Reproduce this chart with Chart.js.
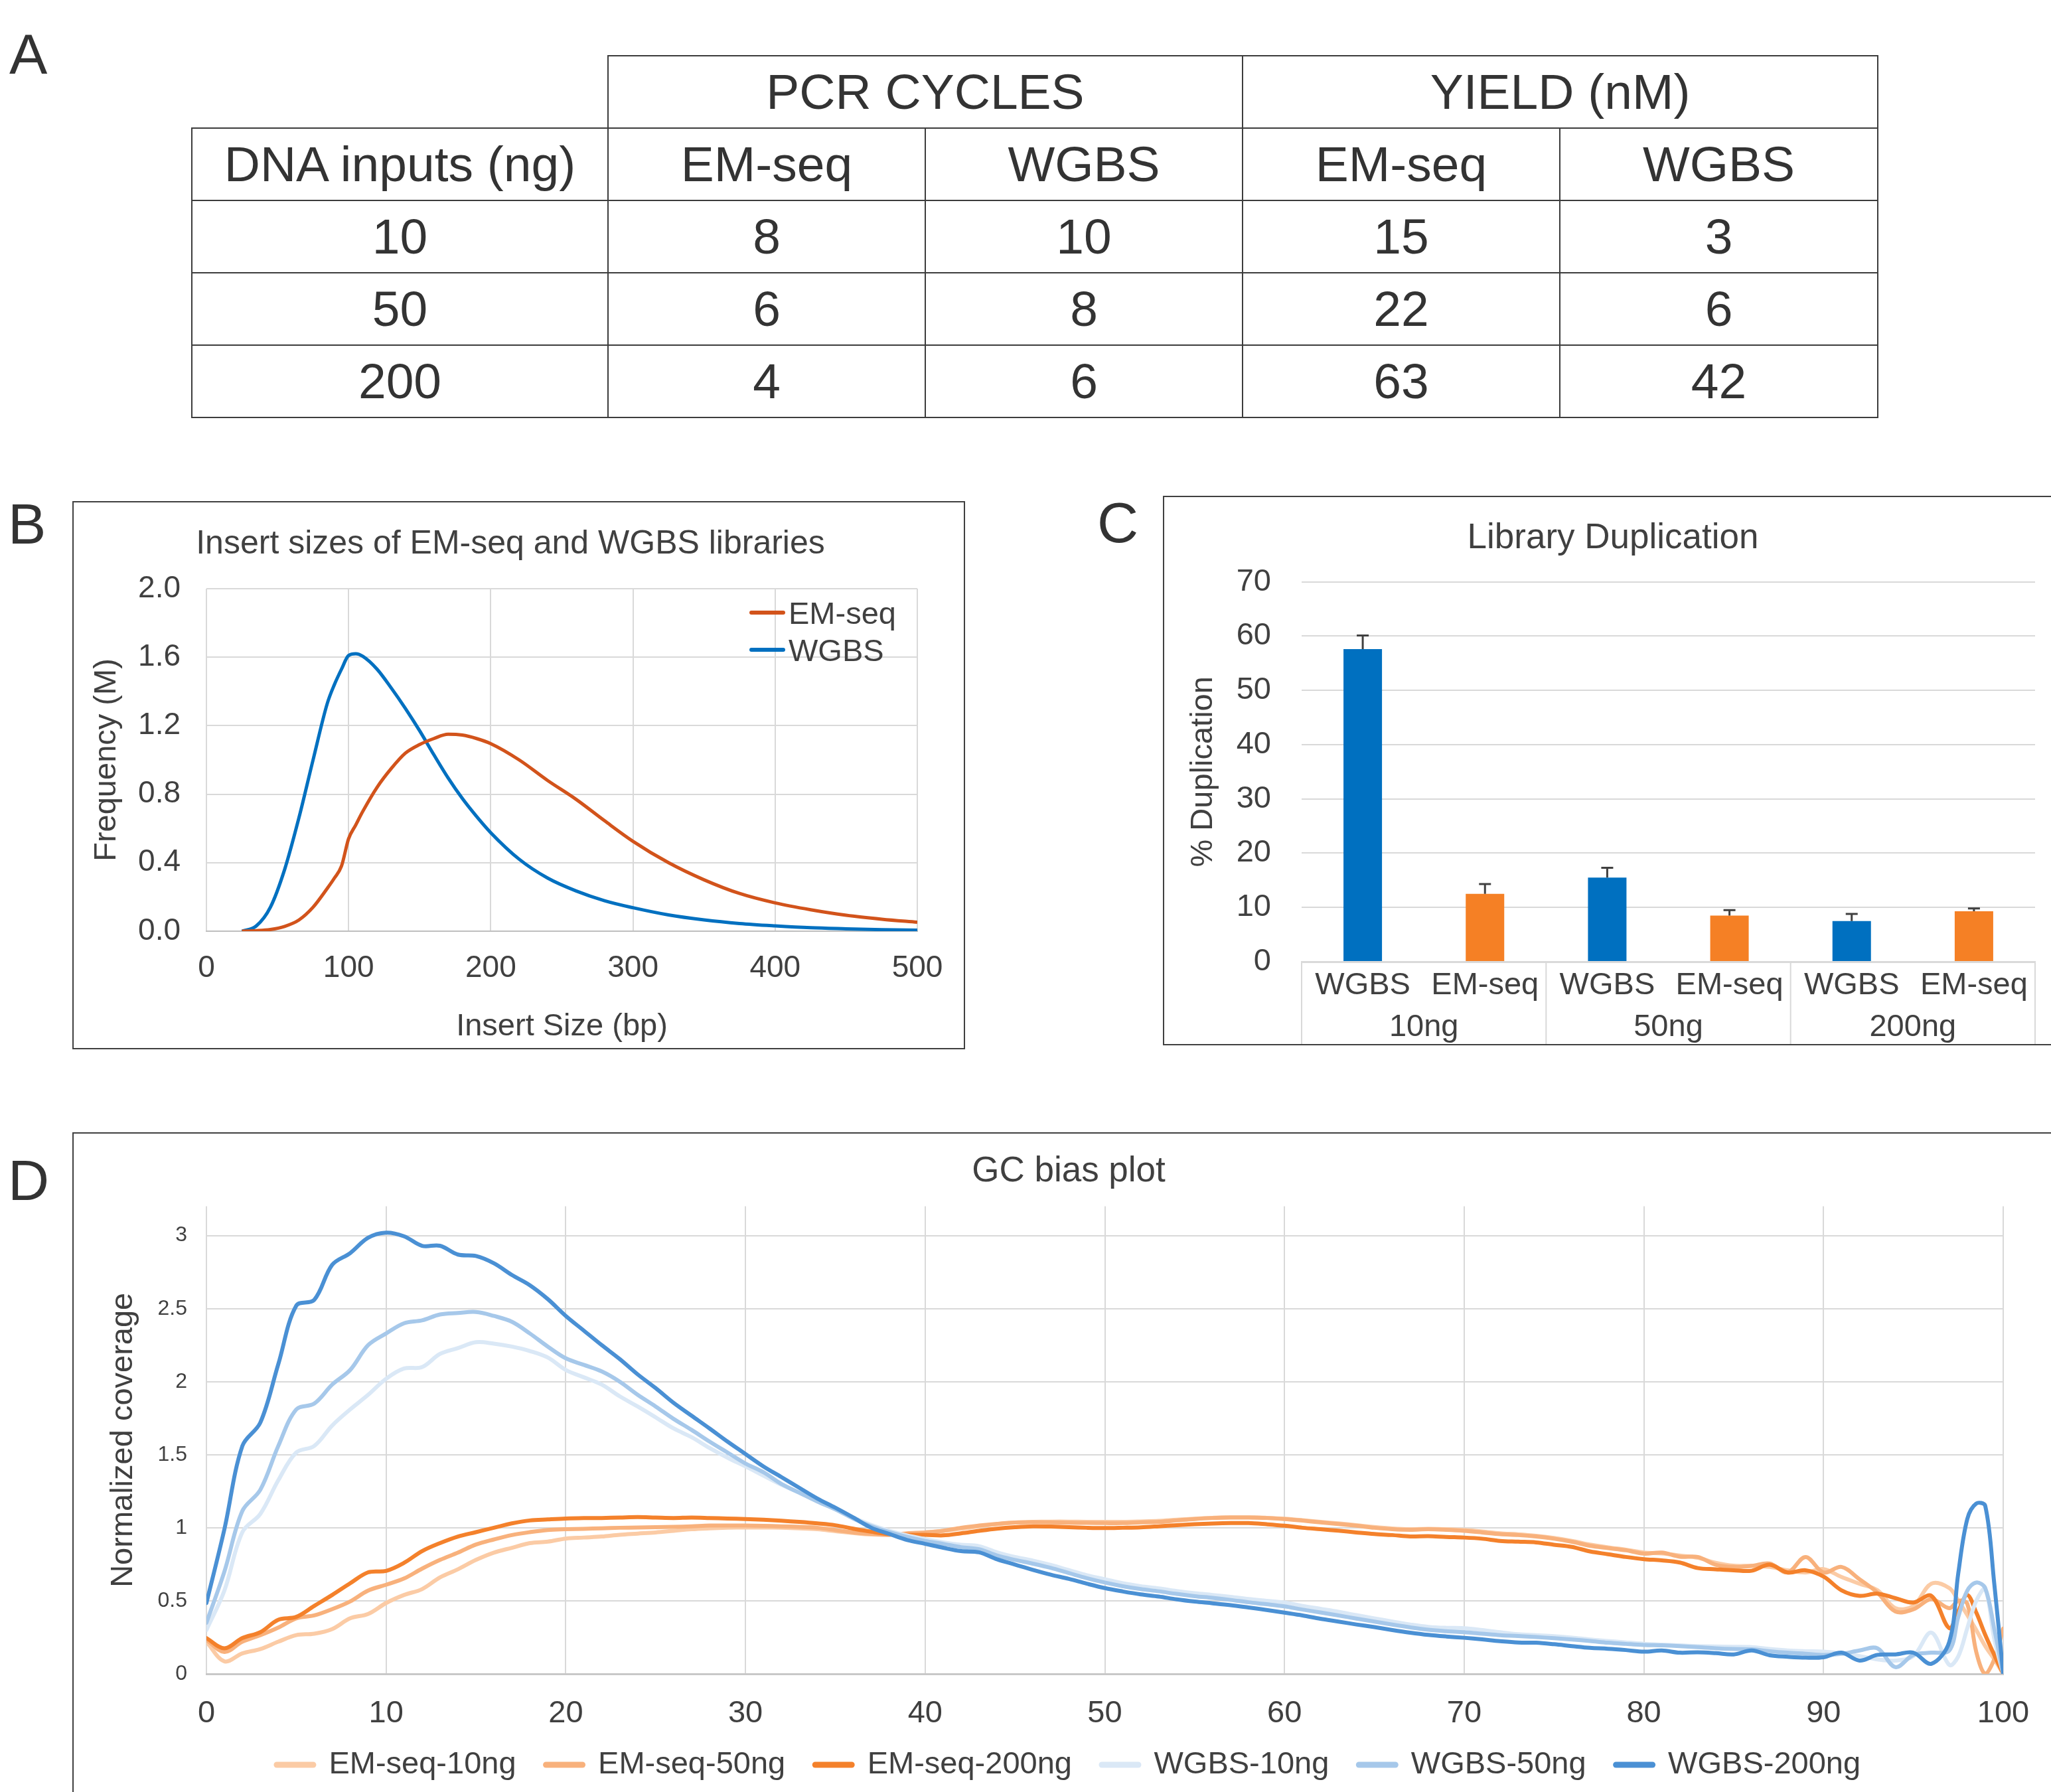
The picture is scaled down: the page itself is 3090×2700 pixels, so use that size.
<!DOCTYPE html>
<html>
<head>
<meta charset="utf-8">
<script src="https://cdn.jsdelivr.net/npm/chart.js@4.4.1/dist/chart.umd.min.js"></script>
<style>
  body { margin: 0; width: 3090px; height: 2700px; overflow: hidden; background: #fff; position: relative;
         font-family: "Liberation Sans", Arial, Helvetica, sans-serif; color: #333; }
  .tag { position: absolute; font-size: 86px; line-height: 1; color: #333; }
  .box { position: absolute; border: 2px solid #404040; box-sizing: border-box; }
  canvas { position: absolute; }
  #tbl { position: absolute; left: 288px; top: 83px; border-collapse: collapse; table-layout: fixed;
         font-size: 75px; color: #333; }
  #tbl td { border: 2px solid #3c3c3c; text-align: center; vertical-align: middle; padding: 0; line-height: 1; }
  #tbl tr { height: 109px; }
  #tbl td.blank { border-top-style: hidden; border-left-style: hidden; }
  .legB { position: absolute; left: 1129px; height: 60px; display: flex; align-items: center; font-size: 47px; color: #404040; }
  .legB span { display: inline-block; width: 54px; height: 6px; border-radius: 3px; margin-right: 5px; }
</style>
</head>
<body>
<div class="tag" style="left:14px; top:38px">A</div>
<div class="tag" style="left:12px; top:746px">B</div>
<div class="tag" style="left:1653px; top:744px">C</div>
<div class="tag" style="left:12px; top:1735px">D</div>

<table id="tbl"></table>

<div class="box" style="left:109px; top:755px; width:1345px; height:826px"></div>
<canvas id="chartB" width="1345" height="825" style="left:110px; top:755px"></canvas>

<div class="box" style="left:1752px; top:747px; width:1400px; height:828px"></div>
<canvas id="chartC" width="1356" height="826" style="left:1752px; top:747px"></canvas>

<div class="box" style="left:109px; top:1706px; width:3100px; height:1100px"></div>
<canvas id="chartD" width="3000" height="1040" style="left:110px; top:1707px"></canvas>

<script>
// ---- A: library prep table ----
const tableGroups = ["PCR CYCLES", "YIELD (nM)"];
const tableMethods = ["EM-seq", "WGBS"];
const dnaInputsNg = [10, 50, 200];
const pcrEmseq = [8, 6, 4];
const pcrWgbs = [10, 8, 6];
const yieldEmseq = [15, 22, 63];
const yieldWgbs = [3, 6, 42];

// ---- B: insert sizes ----
const insertSizeBp = [25, 35, 45, 55, 65, 75, 85, 90, 95, 100, 105, 110, 120, 130, 140, 150, 160, 170, 180, 190,
  200, 220, 240, 260, 280, 300, 325, 350, 375, 400, 425, 450, 475, 500];
const emseqFreqM = [0.0, 0.003, 0.01, 0.028, 0.065, 0.14, 0.25, 0.31, 0.38, 0.54, 0.62, 0.70, 0.84, 0.95, 1.04, 1.09, 1.125, 1.15, 1.145, 1.125,
  1.095, 1.0, 0.88, 0.77, 0.645, 0.525, 0.40, 0.30, 0.22, 0.165, 0.125, 0.093, 0.07, 0.052];
const wgbsFreqM = [0.0, 0.03, 0.14, 0.36, 0.66, 1.0, 1.33, 1.44, 1.53, 1.61, 1.62, 1.605, 1.53, 1.42, 1.30, 1.17, 1.03, 0.895, 0.775, 0.67,
  0.575, 0.42, 0.31, 0.235, 0.178, 0.137, 0.095, 0.066, 0.045, 0.031, 0.02, 0.014, 0.009, 0.006];
const insertLabels = ["EM-seq", "WGBS"];
const insertColors = ["#D2531B", "#0070C0"];

// ---- C: library duplication ----
const dupLabels = ["WGBS", "EM-seq", "WGBS", "EM-seq", "WGBS", "EM-seq"];
const dupGroups = ["10ng", "50ng", "200ng"];
const dupValues = [57.6, 12.5, 15.5, 8.5, 7.5, 9.3];
const dupErrors = [2.5, 1.8, 1.8, 1.0, 1.3, 0.5];

// ---- D: GC bias ----
const gcContent = [0, 1, 2, 3, 4, 5, 6, 7, 8, 9,
  10, 11, 12, 13, 14, 15, 16, 17, 18, 19,
  20, 21, 22, 23, 24, 25, 26, 27, 28, 29,
  30, 31, 32, 33, 34, 35, 36, 37, 38, 39,
  40, 41, 42, 43, 44, 45, 46, 47, 48, 49,
  50, 51, 52, 53, 54, 55, 56, 57, 58, 59,
  60, 61, 62, 63, 64, 65, 66, 67, 68, 69,
  70, 71, 72, 73, 74, 75, 76, 77, 78, 79,
  80, 81, 82, 83, 84, 85, 86, 87, 88, 89,
  90, 91, 92, 93, 94, 95, 96, 97,
  97.5, 98, 98.5, 99, 99.5, 100];
const emseq10ng = [0.22, 0.086, 0.14, 0.17, 0.22, 0.265, 0.275, 0.307, 0.38, 0.41,
  0.485, 0.54, 0.58, 0.66, 0.716, 0.78, 0.83, 0.863, 0.895, 0.905,
  0.926, 0.933, 0.94, 0.952, 0.96, 0.968, 0.979, 0.99, 0.996, 1.0,
  1.002, 1.002, 1.0, 0.996, 0.99, 0.977, 0.964, 0.954, 0.952, 0.958,
  0.968, 0.979, 0.994, 1.01, 1.025, 1.036, 1.04, 1.042, 1.042, 1.04,
  1.04, 1.04, 1.043, 1.047, 1.055, 1.062, 1.068, 1.072, 1.072, 1.068,
  1.062, 1.052, 1.04, 1.03, 1.018, 1.005, 0.995, 0.99, 0.993, 0.99,
  0.985, 0.975, 0.962, 0.955, 0.945, 0.93, 0.91, 0.885, 0.866, 0.85,
  0.83, 0.825, 0.81, 0.795, 0.76, 0.74, 0.739, 0.732, 0.709, 0.694,
  0.717, 0.663, 0.617, 0.572, 0.45, 0.465, 0.617, 0.587,
  0.5, 0.404, 0.3, 0.19, 0.1, 0];
const emseq50ng = [0.233, 0.15, 0.22, 0.265, 0.317, 0.38, 0.40, 0.443, 0.496, 0.57,
  0.61, 0.653, 0.72, 0.78, 0.83, 0.885, 0.92, 0.95, 0.97, 0.985,
  0.99, 0.993, 0.996, 1.0, 1.002, 1.004, 1.006, 1.01, 1.015, 1.015,
  1.015, 1.013, 1.01, 1.006, 1.0, 0.985, 0.968, 0.958, 0.952, 0.962,
  0.968, 0.979, 1.0, 1.015, 1.027, 1.036, 1.038, 1.037, 1.035, 1.033,
  1.032, 1.032, 1.037, 1.04, 1.05, 1.06, 1.067, 1.07, 1.07, 1.067,
  1.06, 1.049, 1.037, 1.026, 1.014, 1.0, 0.99, 0.986, 0.99, 0.986,
  0.979, 0.968, 0.956, 0.95, 0.94, 0.925, 0.904, 0.877, 0.861, 0.846,
  0.823, 0.83, 0.802, 0.80, 0.747, 0.732, 0.739, 0.755, 0.694, 0.80,
  0.694, 0.732, 0.648, 0.556, 0.427, 0.442, 0.511, 0.45,
  0.5, 0.48, 0.15, 0.0, 0.1, 0.31];
const emseq200ng = [0.245, 0.175, 0.245, 0.285, 0.37, 0.39, 0.465, 0.54, 0.62, 0.695,
  0.705, 0.76, 0.84, 0.895, 0.94, 0.97, 1.0, 1.03, 1.05, 1.057,
  1.063, 1.066, 1.067, 1.07, 1.073, 1.07, 1.067, 1.07, 1.067, 1.063,
  1.06, 1.055, 1.048, 1.04, 1.03, 1.017, 0.994, 0.973, 0.956, 0.952,
  0.952, 0.948, 0.962, 0.979, 0.994, 1.004, 1.01, 1.008, 1.004, 1.0,
  0.998, 1.0, 1.003, 1.01, 1.018, 1.024, 1.029, 1.032, 1.032, 1.024,
  1.014, 1.0, 0.99, 0.98, 0.968, 0.957, 0.95, 0.94, 0.943, 0.937,
  0.933, 0.925, 0.91, 0.905, 0.90, 0.884, 0.869, 0.838, 0.819, 0.80,
  0.785, 0.777, 0.762, 0.724, 0.716, 0.709, 0.706, 0.747, 0.694, 0.709,
  0.666, 0.572, 0.534, 0.549, 0.518, 0.488, 0.534, 0.3125,
  0.43, 0.54, 0.42, 0.267, 0.13, 0];
const wgbs10ng = [0.30, 0.57, 0.97, 1.095, 1.325, 1.515, 1.56, 1.70, 1.81, 1.91,
  2.02, 2.09, 2.10, 2.19, 2.23, 2.27, 2.26, 2.24, 2.21, 2.165,
  2.08, 2.03, 1.98, 1.90, 1.83, 1.756, 1.68, 1.62, 1.546, 1.48,
  1.42, 1.357, 1.294, 1.24, 1.18, 1.126, 1.07, 1.02, 0.98, 0.947,
  0.922, 0.90, 0.884, 0.874, 0.832, 0.80, 0.775, 0.745, 0.71, 0.675,
  0.648, 0.62, 0.60, 0.585, 0.567, 0.552, 0.54, 0.527, 0.512, 0.5,
  0.488, 0.465, 0.445, 0.425, 0.402, 0.38, 0.358, 0.338, 0.322, 0.315,
  0.3125, 0.30, 0.285, 0.272, 0.265, 0.258, 0.248, 0.235, 0.225, 0.215,
  0.206, 0.20, 0.195, 0.19, 0.187, 0.185, 0.183, 0.17, 0.16, 0.155,
  0.152, 0.14, 0.122, 0.099, 0.091, 0.122, 0.282, 0.061,
  0.12, 0.3125, 0.5, 0.58, 0.24, 0];
const wgbs50ng = [0.35, 0.70, 1.115, 1.26, 1.56, 1.81, 1.85, 1.98, 2.08, 2.25,
  2.33, 2.40, 2.42, 2.46, 2.47, 2.477, 2.45, 2.41, 2.33, 2.24,
  2.16, 2.115, 2.07, 2.0, 1.91, 1.83, 1.745, 1.67, 1.59, 1.515,
  1.44, 1.38, 1.30, 1.24, 1.18, 1.126, 1.063, 1.01, 0.97, 0.937,
  0.91, 0.89, 0.867, 0.853, 0.81, 0.78, 0.754, 0.725, 0.69, 0.655,
  0.625, 0.60, 0.58, 0.565, 0.547, 0.532, 0.52, 0.506, 0.49, 0.477,
  0.462, 0.44, 0.42, 0.40, 0.378, 0.358, 0.337, 0.318, 0.302, 0.292,
  0.285, 0.275, 0.265, 0.259, 0.252, 0.244, 0.235, 0.225, 0.213, 0.205,
  0.198, 0.195, 0.19, 0.183, 0.175, 0.17, 0.168, 0.155, 0.145, 0.138,
  0.13, 0.137, 0.16, 0.175, 0.046, 0.13, 0.145, 0.16,
  0.39, 0.57, 0.625, 0.587, 0.31, 0];
const wgbs200ng = [0.485, 0.99, 1.56, 1.72, 2.12, 2.52, 2.56, 2.80, 2.88, 2.985,
  3.02, 2.995, 2.93, 2.93, 2.87, 2.86, 2.81, 2.73, 2.66, 2.565,
  2.45, 2.35, 2.25, 2.155, 2.05, 1.956, 1.855, 1.767, 1.68, 1.59,
  1.505, 1.42, 1.347, 1.273, 1.20, 1.137, 1.07, 1.0, 0.958, 0.916,
  0.89, 0.863, 0.84, 0.832, 0.784, 0.748, 0.712, 0.679, 0.65, 0.617,
  0.587, 0.564, 0.544, 0.529, 0.51, 0.495, 0.483, 0.47, 0.454, 0.4375,
  0.419, 0.40, 0.377, 0.358, 0.338, 0.32, 0.30, 0.282, 0.267, 0.256,
  0.247, 0.236, 0.224, 0.215, 0.213, 0.203, 0.19, 0.178, 0.172, 0.163,
  0.152, 0.16, 0.145, 0.148, 0.142, 0.133, 0.16, 0.127, 0.117, 0.111,
  0.114, 0.145, 0.091, 0.13, 0.133, 0.145, 0.069, 0.22,
  0.69, 1.06, 1.166, 1.15, 0.62, 0];
const gcSeriesLabels = ["EM-seq-10ng", "EM-seq-50ng", "EM-seq-200ng", "WGBS-10ng", "WGBS-50ng", "WGBS-200ng"];
const gcSeriesValues = [emseq10ng, emseq50ng, emseq200ng, wgbs10ng, wgbs50ng, wgbs200ng];
const gcColors = ["#FBCBA5", "#F8B17C", "#F4812B", "#DAE8F6", "#A6C8EA", "#4A90D4"];

// ---------------------------------------------------------------
Chart.defaults.font.family = '"Liberation Sans", Arial, Helvetica, sans-serif';
Chart.defaults.color = "#404040";

const GRID = "#d9d9d9";
const toPts = (xs, ys) => xs.map((x, i) => ({ x, y: ys[i] }));

// table
let html = '<colgroup><col style="width:627px"><col style="width:478px"><col style="width:478px"><col style="width:478px"><col style="width:479px"></colgroup>';
html += '<tr><td class="blank"></td>' + tableGroups.map(g => `<td colspan="2">${g}</td>`).join("") + "</tr>";
html += "<tr><td>DNA inputs (ng)</td>" + tableGroups.map(() => tableMethods.map(m => `<td>${m}</td>`).join("")).join("") + "</tr>";
dnaInputsNg.forEach((d, i) => {
  html += `<tr><td>${d}</td><td>${pcrEmseq[i]}</td><td>${pcrWgbs[i]}</td><td>${yieldEmseq[i]}</td><td>${yieldWgbs[i]}</td></tr>`;
});
document.getElementById("tbl").innerHTML = html;

// B legend (sits inside the plot, top right)
insertLabels.forEach((lab, i) => {
  const row = document.createElement("div");
  row.className = "legB";
  row.style.top = (893 + 56 * i) + "px";
  row.innerHTML = `<span style="background:${insertColors[i]}"></span>${lab}`;
  document.body.appendChild(row);
});

// B: insert sizes
new Chart(document.getElementById("chartB"), {
  type: "line",
  data: {
    datasets: insertLabels.map((lab, i) => ({
      label: lab,
      data: toPts(insertSizeBp, i === 0 ? emseqFreqM : wgbsFreqM),
      borderColor: insertColors[i],
      borderWidth: 5,
      pointRadius: 0,
      cubicInterpolationMode: "monotone"
    }))
  },
  options: {
    responsive: false, animation: false, devicePixelRatio: 1,
    layout: { padding: { left: 46, right: 73, top: 35, bottom: 0 } },
    plugins: {
      legend: { display: false },
      tooltip: { enabled: false },
      title: { display: true, text: "Insert sizes of EM-seq and WGBS libraries", color: "#404040",
               font: { size: 50, weight: "normal" }, padding: { top: 0, bottom: 37 } }
    },
    scales: {
      x: {
        type: "linear", min: 0, max: 500,
        ticks: { stepSize: 100, padding: 29, font: { size: 46 }, maxRotation: 0 },
        grid: { color: GRID, lineWidth: 2, drawTicks: false },
        border: { color: "#bfbfbf", width: 2 },
        title: { display: true, text: "Insert Size (bp)", font: { size: 47 }, padding: { top: 0, bottom: 5 } },
        afterFit: s => { s.height = 177; }
      },
      y: {
        min: 0, max: 2,
        ticks: { stepSize: 0.4, padding: 39, font: { size: 46 }, callback: v => Number(v).toFixed(1) },
        grid: { color: GRID, lineWidth: 2, drawTicks: false },
        border: { display: false },
        title: { display: true, text: "Frequency (M)", font: { size: 47 }, padding: { top: -23, bottom: 0 } },
        afterFit: s => { s.width = 155; }
      }
    }
  }
});

// C: duplication bars with error bars and grouped labels
const errorBars = {
  id: "errorBars",
  afterDatasetsDraw(chart) {
    const { ctx, scales: { y } } = chart;
    const meta = chart.getDatasetMeta(0);
    ctx.save();
    ctx.strokeStyle = "#404040";
    ctx.lineWidth = 3;
    meta.data.forEach((bar, i) => {
      const top = y.getPixelForValue(dupValues[i] + dupErrors[i]);
      ctx.beginPath();
      ctx.moveTo(bar.x, bar.y);
      ctx.lineTo(bar.x, top);
      ctx.moveTo(bar.x - 9, top);
      ctx.lineTo(bar.x + 9, top);
      ctx.stroke();
    });
    ctx.restore();
  }
};
const groupSeparators = {
  id: "groupSeparators",
  afterDraw(chart) {
    const { ctx, chartArea, scales: { x } } = chart;
    const per = dupLabels.length / dupGroups.length;
    const edges = [chartArea.left];
    for (let g = 1; g < dupGroups.length; g++) {
      edges.push((x.getPixelForValue(g * per - 1) + x.getPixelForValue(g * per)) / 2);
    }
    edges.push(chartArea.right);
    ctx.save();
    ctx.strokeStyle = GRID;
    ctx.lineWidth = 2;
    edges.forEach(ex => {
      ctx.beginPath();
      ctx.moveTo(ex, chartArea.bottom);
      ctx.lineTo(ex, chart.height);
      ctx.stroke();
    });
    ctx.restore();
  }
};

new Chart(document.getElementById("chartC"), {
  type: "bar",
  data: {
    labels: dupLabels,
    datasets: [{
      data: dupValues,
      backgroundColor: dupLabels.map(l => l === "WGBS" ? "#0070C0" : "#F58025"),
      barPercentage: 0.315,
      categoryPercentage: 1
    }]
  },
  options: {
    responsive: false, animation: false, devicePixelRatio: 1,
    layout: { padding: { left: 42, right: 42, top: 33, bottom: 0 } },
    plugins: {
      legend: { display: false },
      tooltip: { enabled: false },
      title: { display: true, text: "Library Duplication", color: "#404040",
               font: { size: 53, weight: "normal" }, padding: { top: 0, bottom: 33 } }
    },
    scales: {
      x: {
        weight: 0,
        grid: { display: false, drawTicks: false },
        border: { color: GRID, width: 3 },
        ticks: { font: { size: 47 }, padding: 8, autoSkip: false, maxRotation: 0 },
        afterFit: s => { s.height = 60; }
      },
      x2: {
        type: "category", labels: dupGroups, position: "bottom", offset: true, weight: 1,
        grid: { display: false, drawTicks: false },
        border: { display: false },
        ticks: { font: { size: 47 }, padding: 11, autoSkip: false, maxRotation: 0 },
        afterFit: s => { s.height = 64; }
      },
      y: {
        min: 0, max: 70,
        ticks: { stepSize: 10, padding: 46, font: { size: 47 } },
        grid: { color: GRID, lineWidth: 2, drawTicks: false },
        border: { display: false },
        title: { display: true, text: "% Duplication", font: { size: 47 }, padding: { top: -9, bottom: 0 } },
        afterFit: s => { s.width = 167; }
      }
    }
  },
  plugins: [errorBars, groupSeparators]
});

// D: GC bias; the legend row sits a little closer to the axis than the layout gives
const liftLegend = {
  id: "liftLegend",
  afterLayout(chart) {
    chart.legend.top -= 16;
    chart.legend.bottom -= 16;
  }
};

new Chart(document.getElementById("chartD"), {
  type: "line",
  data: {
    datasets: gcSeriesLabels.map((lab, i) => ({
      label: lab,
      data: toPts(gcContent, gcSeriesValues[i]),
      borderColor: gcColors[i],
      backgroundColor: gcColors[i],
      borderWidth: 6,
      pointRadius: 0,
      tension: 0.35,
      borderCapStyle: "round",
      order: gcSeriesLabels.length - 1 - i
    }))
  },
  options: {
    responsive: false, animation: false, devicePixelRatio: 1,
    layout: { padding: { left: 92, right: 92, top: 27, bottom: 38.5 } },
    plugins: {
      tooltip: { enabled: false },
      title: { display: true, text: "GC bias plot", color: "#404040",
               font: { size: 53, weight: "normal" }, padding: { top: 0, bottom: 20 } },
      legend: {
        position: "bottom",
        labels: {
          font: { size: 47 }, color: "#404040", padding: 45,
          usePointStyle: true, pointStyle: "line", pointStyleWidth: 55,
          sort: (a, b) => a.datasetIndex - b.datasetIndex,
          generateLabels: chart => Chart.defaults.plugins.legend.labels.generateLabels(chart)
            .map(l => Object.assign(l, { lineWidth: 9, lineCap: "round" }))
        }
      }
    },
    scales: {
      x: {
        type: "linear", min: 0, max: 100,
        ticks: { stepSize: 10, padding: 32, font: { size: 47 }, maxRotation: 0, autoSkip: false },
        grid: { color: GRID, lineWidth: 2, drawTicks: false },
        border: { color: "#c8c8c8", width: 3 },
        afterFit: s => { s.height = 84.5; }
      },
      y: {
        min: 0, max: 3.2,
        ticks: { stepSize: 0.5, includeBounds: false, padding: 29, font: { size: 32 },
                 callback: v => String(Number(Number(v).toFixed(1))) },
        grid: { color: GRID, lineWidth: 2, drawTicks: false },
        border: { display: false },
        title: { display: true, text: "Normalized coverage", font: { size: 47 }, padding: { top: -44, bottom: 0 } },
        afterFit: s => { s.width = 109; }
      }
    }
  },
  plugins: [liftLegend]
});
</script>
</body>
</html>
